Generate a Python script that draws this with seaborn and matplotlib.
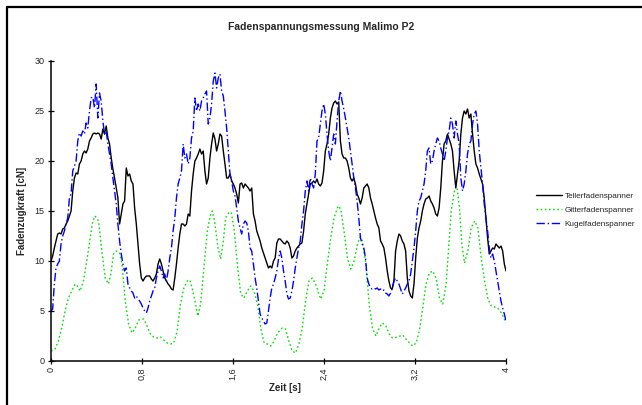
import numpy as np
import pandas as pd
import seaborn as sns
import matplotlib
matplotlib.use("Agg")
import matplotlib.pyplot as plt
from matplotlib.lines import Line2D

# ---------------- data ----------------
title = "Fadenspannungsmessung Malimo P2"
x_label = "Zeit [s]"
y_label = "Fadenzugkraft [cN]"
series_names = ["Tellerfadenspanner", "Gitterfadenspanner", "Kugelfadenspanner"]
x_ticks = [0, 0.8, 1.6, 2.4, 3.2, 4.0]
x_tick_labels = ["0", "0,8", "1,6", "2,4", "3,2", "4"]
y_ticks = [0, 5, 10, 15, 20, 25, 30]
y_tick_labels = ["0", "5", "10", "15", "20", "25", "30"]

# measurement duration [s]; Teller and Kugel are sampled on the same uniform grid
duration = 4.0

teller = [
    10.0, 10.5, 11.3, 12.0, 12.7, 12.8, 12.7, 13.2, 13.3, 13.7, 14.0, 14.5, 15.0, 17.0, 18.3, 18.8,
    18.7, 19.7, 20.0, 20.7, 21.0, 20.8, 21.2, 22.0, 22.3, 22.7, 22.8, 22.7, 22.8, 22.7, 22.2, 23.2,
    22.7, 23.5, 22.3, 21.7, 20.3, 19.2, 18.3, 17.3, 16.3, 13.7, 14.7, 15.7, 16.0, 19.3, 18.5, 18.7,
    18.0, 17.7, 15.3, 13.7, 11.7, 9.7, 8.3, 8.0, 8.3, 8.5, 8.5, 8.5, 8.2, 8.0, 8.3, 8.7,
    9.7, 10.2, 9.7, 9.0, 8.3, 8.0, 7.7, 7.5, 7.2, 7.1, 8.3, 9.7, 11.3, 12.7, 13.7, 13.7,
    13.5, 13.7, 14.7, 14.5, 17.0, 18.7, 20.0, 20.3, 20.7, 21.2, 20.7, 21.0, 19.0, 17.7, 18.3, 20.3,
    21.7, 22.8, 22.2, 21.0, 21.7, 22.7, 22.5, 21.0, 19.7, 18.3, 18.3, 18.7, 18.0, 17.7, 17.3, 16.7,
    15.8, 17.7, 17.8, 17.3, 17.7, 17.5, 17.3, 17.0, 17.3, 14.7, 14.0, 13.0, 12.5, 12.0, 11.3, 10.8,
    10.3, 9.8, 9.3, 9.5, 9.3, 10.0, 10.3, 11.8, 12.2,
    12.2, 12.0, 11.8, 11.7, 12.0, 11.8, 11.3, 10.3, 10.5, 11.0, 11.3, 11.5, 11.7, 11.8, 13.0, 14.7,
    15.7, 16.7, 17.7, 17.8, 18.0, 17.8, 18.2, 17.7, 17.5, 17.8, 19.0, 21.0, 21.7, 22.7, 24.3, 25.3,
    25.8, 26.0, 25.7, 25.9, 22.0, 20.7, 20.3, 20.3, 20.0, 19.3, 18.3, 18.0, 18.3, 17.7, 16.7, 16.3,
    15.7, 16.3, 17.3, 17.5, 17.7, 17.3, 16.3, 15.7, 15.0, 14.3, 13.7, 13.3, 12.0, 11.7, 11.3, 10.3,
    9.0, 8.0, 7.3, 7.2, 8.0, 11.0, 12.0, 12.7, 12.5, 12.0, 11.7, 11.0, 8.3, 7.0, 6.5, 6.3,
    7.7, 10.3, 12.3, 13.3, 14.0, 15.0, 15.7, 16.2, 16.3, 16.5, 16.0, 15.7, 15.3, 14.7, 14.5, 15.3,
    17.3, 20.0, 21.7, 22.0, 22.7, 22.2, 21.7, 21.0, 19.0, 17.3, 18.7, 20.0, 22.7, 24.3, 25.0, 24.7,
    25.2, 24.3, 24.7, 22.7, 21.0, 19.7, 19.3, 18.7, 18.2, 17.7, 16.3, 14.3, 12.3, 10.7, 11.0, 11.3,
    11.2, 11.7, 11.5, 11.3, 11.5, 11.0, 9.7, 9.0,
]

kugel = [
    5.0, 5.2, 7.7, 9.3, 9.7, 10.0, 11.7, 12.5, 13.0, 13.7, 14.3, 16.3, 16.7, 19.0, 19.5, 20.0,
    22.0, 22.8, 22.5, 23.0, 22.7, 23.8, 23.3, 25.0, 26.3, 26.4, 25.3, 27.7, 24.3, 26.8, 26.0, 24.0,
    22.7, 23.0, 21.7, 20.7, 19.7, 18.3, 17.0, 15.7, 13.7, 12.0, 10.7, 9.7, 9.0, 9.3, 7.7, 7.3,
    7.0, 6.8, 6.3, 6.5, 6.2, 6.0, 5.7, 5.3, 5.0, 4.8, 5.3, 6.0, 6.5, 7.0, 7.3, 8.3,
    9.0, 9.5, 9.0, 8.3, 8.7, 8.0, 9.0, 10.3, 11.3, 13.0, 14.3, 16.3, 17.7, 18.3, 19.0, 21.7,
    20.3, 20.7, 19.7, 20.3, 22.3, 23.0, 26.3, 25.0, 25.7, 25.0, 26.0, 26.3, 26.7, 27.0, 23.7, 24.3,
    25.7, 28.0, 28.8, 27.3, 28.3, 28.7, 27.0, 26.5, 25.0, 23.3, 21.0, 18.7, 18.0, 17.0, 16.5, 15.3,
    14.0, 13.3, 12.7, 13.7, 14.0, 13.8, 13.0, 11.3, 11.0, 9.7, 8.3, 7.3, 6.0, 4.7, 4.3, 4.0,
    3.7, 3.8, 5.0, 6.3, 7.3, 7.7, 8.3, 9.0, 10.2,
    11.0, 10.3, 9.0, 8.0, 6.7, 6.2, 6.3, 7.0, 8.0, 9.3, 10.3, 11.3, 12.0, 13.7, 15.0, 17.0,
    18.0, 17.0, 18.3, 17.7, 17.3, 18.7, 22.0, 22.3, 23.7, 25.0, 25.7, 24.7, 22.7, 21.0, 20.0, 21.3,
    22.7, 21.7, 24.0, 26.0, 27.0, 26.0, 25.2, 24.3, 23.3, 22.3, 21.0, 19.7, 18.3, 17.3, 16.0, 14.3,
    12.3, 11.7, 11.3, 10.3, 8.3, 7.7, 7.3, 7.2, 7.3, 7.2, 7.3, 7.1, 7.2, 7.0, 7.1, 6.8,
    6.7, 6.5, 6.8, 7.3, 8.0, 8.3, 8.0, 7.7, 7.2, 6.7, 7.0, 7.3, 7.7, 8.0, 8.7, 10.0,
    11.3, 13.0, 15.0, 16.0, 16.3, 17.0, 17.7, 19.0, 21.0, 21.3, 19.7, 20.0, 21.0, 21.7, 22.3, 22.0,
    21.3, 20.7, 20.0, 21.0, 22.3, 23.0, 24.3, 23.7, 22.3, 24.0, 22.7, 21.7, 18.3, 17.0, 17.7, 19.0,
    20.7, 21.7, 22.0, 23.7, 24.7, 25.0, 23.7, 21.0, 19.3, 17.7, 15.7, 14.3, 13.0, 11.3, 10.3, 10.7,
    10.0, 9.0, 8.0, 7.0, 6.0, 5.3, 4.7, 4.0,
]

gitter_t = [
    0.000, 0.035, 0.065, 0.094, 0.124, 0.153, 0.182, 0.212, 0.232, 0.256, 0.285, 0.315, 0.344, 0.368,
    0.388, 0.418, 0.447, 0.476, 0.506, 0.526, 0.550, 0.574, 0.603, 0.624, 0.653, 0.682, 0.712, 0.741,
    0.771, 0.815, 0.844, 0.874, 0.903, 0.932, 0.962, 0.991, 1.021, 1.050, 1.079, 1.109, 1.138, 1.168,
    1.197, 1.221, 1.241, 1.271, 1.291, 1.315, 1.344, 1.374, 1.403, 1.418, 1.438, 1.468, 1.491, 1.515,
    1.535, 1.565, 1.585, 1.609, 1.638, 1.668, 1.697, 1.726, 1.756, 1.785, 1.815, 1.844, 1.874, 1.903,
    1.932, 1.962, 1.991, 2.032, 2.062, 2.091, 2.121, 2.150, 2.179, 2.209, 2.238, 2.268, 2.297, 2.326,
    2.371, 2.400, 2.429, 2.459, 2.488, 2.524, 2.547, 2.576, 2.606, 2.635, 2.665, 2.694, 2.718, 2.738,
    2.768, 2.797, 2.826, 2.856, 2.885, 2.915, 2.944, 2.974, 3.003, 3.047, 3.091, 3.135, 3.179, 3.209,
    3.238, 3.268, 3.297, 3.326, 3.356, 3.385, 3.415, 3.444, 3.474, 3.494, 3.518, 3.547, 3.571, 3.591,
    3.612, 3.635, 3.665, 3.694, 3.724, 3.753, 3.782, 3.812, 3.841, 3.871, 3.900, 3.935, 3.965, 4.000,
]
gitter = [
    1.0, 1.2, 2.0, 3.3, 5.0, 6.3, 7.0, 7.7, 7.5, 7.0, 8.0, 10.0, 12.3, 14.0,
    14.5, 14.0, 11.0, 8.3, 7.7, 8.7, 10.7, 11.0, 10.8, 9.7, 6.0, 3.7, 2.8, 3.3,
    4.1, 4.2, 3.5, 2.7, 2.4, 2.3, 2.4, 2.1, 1.8, 1.7, 1.8, 3.0, 5.7, 7.3,
    8.0, 8.1, 7.3, 5.7, 4.5, 5.7, 9.3, 13.0, 14.7, 15.0, 14.0, 11.3, 10.2, 12.0,
    14.3, 14.9, 14.8, 13.3, 9.7, 6.7, 6.3, 7.0, 7.5, 7.0, 5.7, 3.3, 1.8, 1.7,
    1.5, 2.0, 2.8, 3.3, 3.2, 2.0, 1.0, 0.8, 1.7, 3.3, 6.0, 8.0, 8.3, 7.7,
    6.2, 7.0, 9.7, 12.3, 14.3, 15.5, 15.2, 13.0, 10.3, 9.2, 10.0, 11.7, 12.4, 12.0,
    9.7, 5.7, 3.3, 2.5, 3.3, 3.8, 3.5, 2.7, 2.3, 2.4, 2.6, 2.0, 1.5, 1.8,
    3.0, 5.3, 7.7, 8.8, 9.0, 8.3, 6.3, 5.7, 7.7, 11.0, 15.0, 17.0, 17.2, 15.3,
    11.7, 9.8, 11.0, 13.3, 14.0, 13.3, 10.3, 8.0, 6.2, 5.5, 5.4, 5.2, 4.7, 3.8,
]

# ---------------- figure ----------------
sns.set_style("white")
plt.rcParams["font.family"] = ["Liberation Sans", "DejaVu Sans"]

W, H = 642, 405
fig = plt.figure(figsize=(W / 100, H / 100), dpi=100)
ax_l, ax_r, ax_b, ax_t = 51, 506, 361, 61
ax = fig.add_axes([ax_l / W, 1 - ax_b / H, (ax_r - ax_l) / W, (ax_b - ax_t) / H])

t_grid = np.linspace(0, duration, len(teller))
df_teller = pd.DataFrame({"t": t_grid, "v": teller})
df_kugel = pd.DataFrame({"t": np.linspace(0, duration, len(kugel)), "v": kugel})
df_gitter = pd.DataFrame({"t": gitter_t, "v": gitter})

sns.lineplot(data=df_teller, x="t", y="v", ax=ax, color="black", linewidth=1.0,
             estimator=None, label=series_names[0])
sns.lineplot(data=df_gitter, x="t", y="v", ax=ax, color="#00e000", linewidth=1.0,
             linestyle=(0, (1.2, 1.8)), estimator=None, label=series_names[1])
sns.lineplot(data=df_kugel, x="t", y="v", ax=ax, color="#0000ff", linewidth=1.0,
             linestyle=(0, (6, 2, 1, 2)), estimator=None, label=series_names[2])

ax.set_xlim(0, 4.0)
ax.set_ylim(0, 30)
ax.set_xticks(x_ticks)
ax.set_xticklabels(x_tick_labels, rotation=90, fontsize=6.5)
ax.set_yticks(y_ticks)
ax.set_yticklabels(y_tick_labels, fontsize=6.5)
ax.tick_params(axis="both", direction="inout", length=5, width=0.9, color="black",
               pad=2, left=True, bottom=True)
for s in ["top", "right"]:
    ax.spines[s].set_visible(False)
for s in ["left", "bottom"]:
    ax.spines[s].set_color("black")
    ax.spines[s].set_linewidth(1.1)

ax.set_xlabel(x_label, fontsize=7, fontweight="bold")
ax.set_ylabel(y_label, fontsize=7, fontweight="bold")
ax.xaxis.set_label_coords((285 - ax_l) / (ax_r - ax_l), (ax_b - 383) / (ax_b - ax_t))
ax.yaxis.set_label_coords((27 - ax_l) / (ax_r - ax_l), 0.5)

fig.text(0.5, 1 - 27 / H, title, ha="center", va="center", fontsize=7.5, fontweight="bold")

ax.get_legend().remove()
handles, labels = ax.get_legend_handles_labels()
fig.legend(handles, labels, loc="center left", bbox_to_anchor=(536 / W, 1 - 210 / H),
           frameon=False, fontsize=5.9, handlelength=3.2, handletextpad=0.3,
           labelspacing=0.75, borderpad=0, borderaxespad=0)

# frame lines of the original chart area (left and top)
fig.add_artist(Line2D([7 / W, 7 / W], [0, 1 - 7 / H], transform=fig.transFigure,
                      color="black", linewidth=1.6))
fig.add_artist(Line2D([7 / W, 1], [1 - 7 / H, 1 - 7 / H], transform=fig.transFigure,
                      color="black", linewidth=1.6))

fig.savefig("out.png", dpi=100)
